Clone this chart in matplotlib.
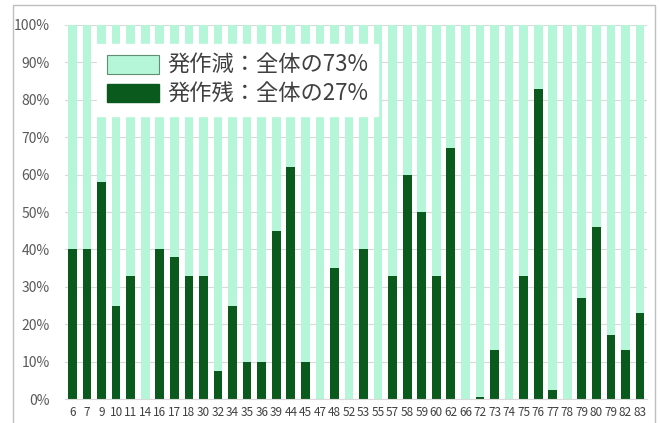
import numpy as np
import matplotlib.pyplot as plt
from matplotlib.patches import Rectangle

plt.rcParams['font.family'] = ['Noto Sans CJK JP', 'DejaVu Sans']

# 症例番号（79 が2回あるのは元の図のまま）
labels = ['6', '7', '9', '10', '11', '14', '16', '17', '18', '30',
          '32', '34', '35', '36', '39', '44', '45', '47', '48', '52',
          '53', '55', '57', '58', '59', '60', '62', '66', '72', '73',
          '74', '75', '76', '77', '78', '79', '80', '79', '82', '83']
# 発作残の割合（%）
remain = [40, 40, 58, 25, 33, 0, 40, 38, 33, 33,
          7.5, 25, 10, 10, 45, 62, 10, 0, 35, 0,
          40, 0, 33, 60, 50, 33, 67, 0, 0.5, 13,
          0, 33, 83, 2.5, 0, 27, 46, 17, 13, 23]
# 発作減の割合（%）
reduced = [100 - v for v in remain]

legend_labels = ['発作減：全体の73%', '発作残：全体の27%']

light = '#B5F6D8'
dark = '#0B5A1D'

fig = plt.figure(figsize=(6.6, 4.23), dpi=100)
ax = fig.add_axes([65.2 / 660, 24 / 423, (647.3 - 65.2) / 660, 374 / 423])

x = np.arange(len(labels))
ax.bar(x, remain, width=0.6, color=dark, zorder=2)
ax.bar(x, reduced, bottom=remain, width=0.6, color=light, zorder=2)

ax.set_xlim(-0.5, len(labels) - 0.5)
ax.set_ylim(0, 100)
ax.set_yticks(np.arange(0, 101, 10))
ax.set_yticklabels([f'{v}%' for v in range(0, 101, 10)], fontsize=10, color='#595959')
ax.set_xticks(x)
ax.set_xticklabels(labels, fontsize=8.5, color='#404040')
ax.tick_params(axis='y', length=0, pad=11)
ax.tick_params(axis='x', length=0, pad=5)
ax.grid(axis='y', color='#d9d9d9', lw=0.8, zorder=0)
for s in ['top', 'right', 'left']:
    ax.spines[s].set_visible(False)
ax.spines['bottom'].set_color('#d9d9d9')

# 凡例（白地でバーの上に重ねる）
h1 = Rectangle((0, 0), 1, 1, facecolor=light, edgecolor='#5f8f70', lw=0.8)
h2 = Rectangle((0, 0), 1, 1, facecolor=dark, edgecolor=dark)
leg = ax.legend([h1, h2], legend_labels, loc='upper left',
                bbox_to_anchor=(97 / 660, 1 - 44 / 423), bbox_transform=fig.transFigure,
                fontsize=16, frameon=True, fancybox=False, framealpha=1,
                edgecolor='white', handlelength=2.35, handleheight=0.9,
                labelspacing=0.26, borderpad=0.45, handletextpad=0.35,
                borderaxespad=0)
leg.set_zorder(5)
for t in leg.get_texts():
    t.set_color('#404040')

# 外枠
fig.patches.append(Rectangle((13 / 660, -0.01), 642 / 660, 1 - 5 / 423 + 0.01,
                             transform=fig.transFigure, fill=False,
                             edgecolor='#bfbfbf', lw=1))

plt.savefig('out.png', dpi=100)
